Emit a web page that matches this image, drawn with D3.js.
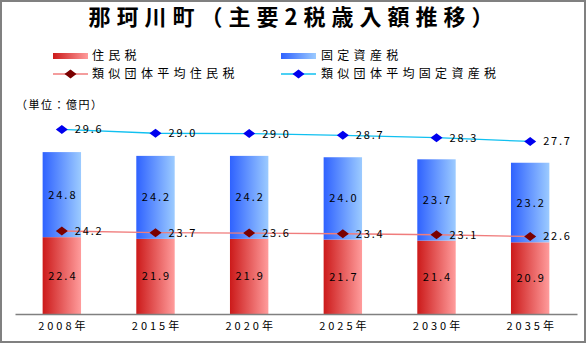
<!DOCTYPE html>
<html><head><meta charset="utf-8">
<script src="https://cdn.jsdelivr.net/npm/d3@7"></script>
<style>body{margin:0;background:#fff}svg{display:block}text{font-family:"Noto Sans CJK JP","DejaVu Sans",sans-serif}</style>
</head><body>
<svg id="c" width="587" height="344"></svg>
<script>
const title = "那珂川町（主要2税歳入額推移）";
const unitLabel = "（単位：億円）";
const categories = ["2008年","2015年","2020年","2025年","2030年","2035年"];
const juminzei = [22.4,21.9,21.9,21.7,21.4,20.9];
const koteiShisanzei = [24.8,24.2,24.2,24.0,23.7,23.2];
const ruijiJuminzei = [24.2,23.7,23.6,23.4,23.1,22.6];
const ruijiKoteiShisanzei = [29.6,29.0,29.0,28.7,28.3,27.7];
const seriesNames = ["住民税","固定資産税","類似団体平均住民税","類似団体平均固定資産税"];

const svg = d3.select("#c");
const defs = svg.append("defs");
function grad(id, c1, c2){
  const g = defs.append("linearGradient").attr("id",id).attr("x1","0").attr("x2","1").attr("y1","0").attr("y2","0");
  g.append("stop").attr("offset","0").attr("stop-color",c1);
  g.append("stop").attr("offset","1").attr("stop-color",c2);
}
grad("gRed","#cc1a1a","#ff9c9c");
grad("gBlue","#2f62ff","#9ccbff");

svg.append("rect").attr("x",1).attr("y",1).attr("width",584).attr("height",341)
  .attr("fill","#fff").attr("stroke","#808080").attr("stroke-width",2);

svg.append("text").attr("x",294).attr("y",25).attr("text-anchor","middle")
  .attr("font-size",22).attr("font-weight","bold").attr("letter-spacing",6).text(title);

const x = d3.scaleBand().domain(categories).range([15,577]).paddingInner(0.59).paddingOuter(0.295);
const y = d3.scaleLinear().domain([0,70]).range([314,314-70*3.43]);

// bars
const g = svg.append("g");
categories.forEach((c,i)=>{
  const r = juminzei[i], b = koteiShisanzei[i];
  g.append("rect").attr("x",x(c)).attr("width",x.bandwidth()).attr("y",y(r)).attr("height",y(0)-y(r)).attr("fill","url(#gRed)");
  g.append("rect").attr("x",x(c)).attr("width",x.bandwidth()).attr("y",y(r+b)).attr("height",y(r)-y(r+b)).attr("fill","url(#gBlue)");
  g.append("text").attr("x",x(c)+x.bandwidth()/2+1).attr("y",(y(r)+y(0))/2+4).attr("text-anchor","middle")
    .attr("font-size",11).attr("letter-spacing",2).text(r.toFixed(1));
  g.append("text").attr("x",x(c)+x.bandwidth()/2+1).attr("y",(y(r)+y(r+b))/2+4).attr("text-anchor","middle")
    .attr("font-size",11).attr("letter-spacing",2).text(b.toFixed(1));
});

// axis
const xAxis = d3.axisBottom(x).tickSize(0).tickPadding(8);
const ax = svg.append("g").attr("transform","translate(0,314)").call(xAxis);
ax.select(".domain").attr("stroke","#808080").attr("stroke-width",1.5);
ax.selectAll("text").attr("font-size",11).attr("letter-spacing",3).attr("fill","#000").attr("dx",1.5)
  .style("font-family",'"Noto Sans CJK JP",sans-serif');

// stacked lines
const cx = c => x(c)+x.bandwidth()/2;
const redVals = ruijiJuminzei;
const blueStack = ruijiJuminzei.map((v,i)=>v+ruijiKoteiShisanzei[i]);
const line = d3.line().x((d,i)=>cx(categories[i])).y(d=>y(d));
svg.append("path").attr("d",line(redVals)).attr("fill","none").attr("stroke","#f07c7c").attr("stroke-width",1.3);
svg.append("path").attr("d",line(blueStack)).attr("fill","none").attr("stroke","#10c0f0").attr("stroke-width",1.3);
const diamond = (px,py,col)=> svg.append("path")
  .attr("d",`M${px-6},${py} L${px},${py-4.5} L${px+6},${py} L${px},${py+4.5}Z`).attr("fill",col);
categories.forEach((c,i)=>{
  diamond(cx(c),y(redVals[i]),"#7a0000");
  diamond(cx(c),y(blueStack[i]),"#0000ee");
  svg.append("text").attr("x",cx(c)+13).attr("y",y(redVals[i])+4).attr("font-size",11).attr("letter-spacing",1.8).text(ruijiJuminzei[i].toFixed(1));
  svg.append("text").attr("x",cx(c)+13).attr("y",y(blueStack[i])+4).attr("font-size",11).attr("letter-spacing",1.8).text(ruijiKoteiShisanzei[i].toFixed(1));
});

// legend
const lg = svg.append("g");
lg.append("rect").attr("x",53).attr("y",53).attr("width",35).attr("height",6).attr("fill","url(#gRed)");
lg.append("rect").attr("x",281).attr("y",53).attr("width",35).attr("height",6).attr("fill","url(#gBlue)");
lg.append("line").attr("x1",53).attr("x2",88).attr("y1",74).attr("y2",74).attr("stroke","#f07c7c").attr("stroke-width",1.3);
lg.append("line").attr("x1",281).attr("x2",316).attr("y1",74).attr("y2",74).attr("stroke","#10c0f0").attr("stroke-width",1.3);
diamond(70.5,74,"#7a0000");
diamond(298.5,74,"#0000ee");
const lt = [[92,60,seriesNames[0]],[321,60,seriesNames[1]],[92,78,seriesNames[2]],[321,78,seriesNames[3]]];
lt.forEach(t=>lg.append("text").attr("x",t[0]).attr("y",t[1]).attr("font-size",12).attr("letter-spacing",4.3).text(t[2]));

svg.append("text").attr("x",16).attr("y",109).attr("font-size",11).attr("letter-spacing",1.5).text(unitLabel);
</script>
</body></html>
